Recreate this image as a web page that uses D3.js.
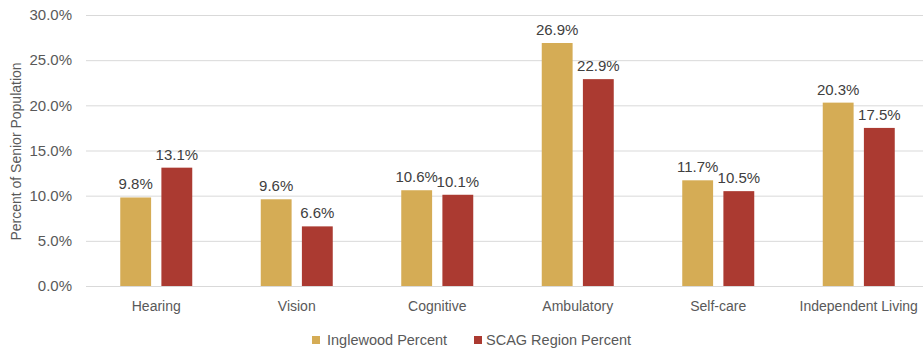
<!DOCTYPE html>
<html>
<head>
<meta charset="utf-8">
<script src="https://cdn.jsdelivr.net/npm/d3@7"></script>
<style>
  html, body { margin: 0; padding: 0; background: #fff; }
  svg { display: block; font-family: "Liberation Sans", Arial, sans-serif; }
</style>
</head>
<body>
<svg id="chart" width="923" height="352"></svg>
<script>
// Disability type categories
const categories = ["Hearing", "Vision", "Cognitive", "Ambulatory", "Self-care", "Independent Living"];
// Share of senior population with each disability (%)
const inglewoodPercent = [9.8, 9.6, 10.6, 26.9, 11.7, 20.3];
const scagPercent = [13.1, 6.6, 10.1, 22.9, 10.5, 17.5];
const seriesNames = ["Inglewood Percent", "SCAG Region Percent"];
const seriesColors = ["#D5AC55", "#AB3A31"];
const yTicks = [0, 5, 10, 15, 20, 25, 30];

const svg = d3.select("#chart");
const margin = { left: 86, right: -6, top: 15, bottom: 66 };
const W = 923, H = 352;
const plotBottom = H - margin.bottom;   // 286
const plotRight = W - margin.right;     // 929

const x0 = d3.scaleBand().domain(categories).range([margin.left, plotRight]).paddingInner(0).paddingOuter(0);
const x1 = d3.scaleBand().domain(seriesNames).range([0, 72]).paddingInner(0.25);
const y = d3.scaleLinear().domain([0, 30]).range([plotBottom, margin.top]);

const textColor = "#595959";

// Gridlines
svg.append("g")
  .selectAll("line")
  .data(yTicks)
  .join("line")
  .attr("x1", margin.left)
  .attr("x2", plotRight)
  .attr("y1", d => y(d) + 0.5)
  .attr("y2", d => y(d) + 0.5)
  .attr("stroke", "#d9d9d9")
  .attr("stroke-width", 1);

// Y axis labels
const yAxis = d3.axisLeft(y).tickValues(yTicks).tickSize(0).tickPadding(14)
  .tickFormat(d => d3.format(".1f")(d) + "%");
const yg = svg.append("g").attr("transform", `translate(${margin.left},0)`).call(yAxis);
yg.select(".domain").remove();
yg.selectAll("text").attr("fill", textColor).style("font-size", "15px");

// Y axis title
svg.append("text")
  .attr("transform", `translate(21,${(margin.top + plotBottom) / 2 + 1}) rotate(-90)`)
  .attr("text-anchor", "middle")
  .attr("fill", textColor)
  .style("font-size", "14px")
  .text("Percent of Senior Population");

// Bars
const rows = categories.map((c, i) => ({
  category: c,
  values: [
    { series: seriesNames[0], value: inglewoodPercent[i] },
    { series: seriesNames[1], value: scagPercent[i] }
  ]
}));

const groups = svg.append("g")
  .selectAll("g")
  .data(rows)
  .join("g")
  .attr("transform", d => `translate(${x0(d.category) + (x0.bandwidth() - 72) / 2},0)`);

groups.selectAll("rect")
  .data(d => d.values)
  .join("rect")
  .attr("x", d => x1(d.series))
  .attr("width", x1.bandwidth())
  .attr("y", d => y(d.value))
  .attr("height", d => plotBottom - y(d.value))
  .attr("fill", (d, i) => seriesColors[i]);

// Value labels
groups.selectAll("text")
  .data(d => d.values)
  .join("text")
  .attr("x", d => x1(d.series) + x1.bandwidth() / 2)
  .attr("y", d => y(d.value) - 8)
  .attr("text-anchor", "middle")
  .attr("fill", "#404040")
  .style("font-size", "15px")
  .text(d => d3.format(".1f")(d.value) + "%");

// Category axis labels
svg.append("g")
  .selectAll("text")
  .data(categories)
  .join("text")
  .attr("x", d => x0(d) + x0.bandwidth() / 2)
  .attr("y", plotBottom + 25)
  .attr("text-anchor", "middle")
  .attr("fill", textColor)
  .style("font-size", "14px")
  .text(d => d);

// Legend
const legendItems = [
  { name: seriesNames[0], color: seriesColors[0], x: 312 },
  { name: seriesNames[1], color: seriesColors[1], x: 474 }
];
const lg = svg.append("g").selectAll("g").data(legendItems).join("g")
  .attr("transform", d => `translate(${d.x},336)`);
lg.append("rect").attr("width", 8).attr("height", 8).attr("fill", d => d.color);
lg.append("text")
  .attr("x", d => d.name === seriesNames[0] ? 15 : 12)
  .attr("y", 8.5)
  .attr("fill", textColor)
  .style("font-size", "14.5px")
  .text(d => d.name);
</script>
</body>
</html>
